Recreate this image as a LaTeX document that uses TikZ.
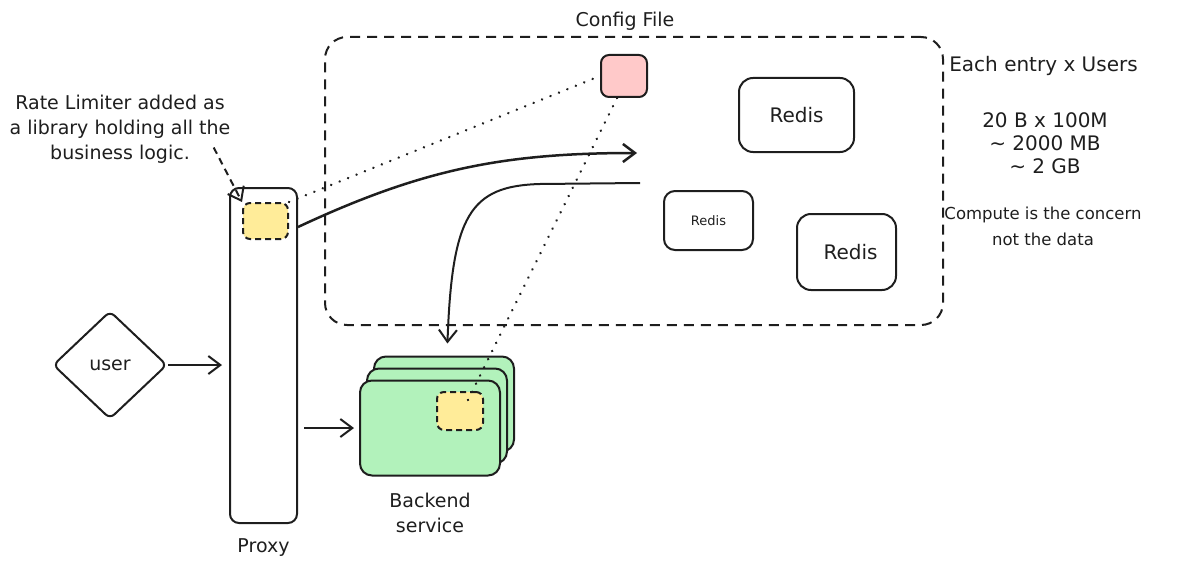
\documentclass[tikz,border=0pt]{standalone}
\usepackage{fontspec}
\setmainfont{DejaVu Sans}
\usetikzlibrary{positioning,shapes.geometric,arrows.meta}
\definecolor{ink}{HTML}{1E1E1E}
\definecolor{limiter}{HTML}{FFEC99}
\definecolor{cfgpink}{HTML}{FFC9C9}
\definecolor{svcgreen}{HTML}{B2F2BB}

\begin{document}
\begin{tikzpicture}[x=1pt, y=-1pt, line width=2pt, color=ink,
    box/.style={draw, rounded corners=9pt, inner sep=0pt},
    limbox/.style={box, fill=limiter, dash pattern=on 6pt off 4pt, rounded corners=7pt},
    card/.style={box, fill=svcgreen, minimum width=140pt, minimum height=95pt, rounded corners=12pt},
    lbl/.style={font=\fontsize{19}{25}\selectfont, align=center},
    arr/.style={-{Straight Barb[length=12pt,width=18pt]}},
    dotline/.style={dash pattern=on 0.1pt off 9pt, line cap=round, line width=2.6pt}]
              \useasboundingbox (0,0) rectangle (1182,567);
                \node[box, minimum width=67pt, minimum height=335pt] (proxy) at (263.5,355.5) {};
                \node[lbl, below=10pt of proxy] (proxylbl) {Proxy};
                \node[limbox, minimum width=45pt, minimum height=36pt] (rl) at (265.5,221) {};
                \node[draw, diamond, lbl, rounded corners=6pt, inner sep=0pt,
                      minimum width=114pt, minimum height=108pt] (user) at (110,365) {user};
                \node[box, dash pattern=on 10pt off 7pt, rounded corners=22pt,
                      minimum width=618pt, minimum height=288pt] (config) at (634,181) {};
                \node[lbl, above=1pt of config, xshift=-9pt] (cfglbl) {Config File};
                \node[box, fill=cfgpink, minimum width=46pt, minimum height=42pt, rounded corners=8pt] (cfg) at (624,76) {};
                \node[box, lbl, font=\fontsize{20}{25}\selectfont, minimum width=115pt, minimum height=74pt,
                      rounded corners=14pt] (redisA) at (796.5,115) {Redis};
                \node[box, font=\fontsize{13}{15}\selectfont, minimum width=89pt, minimum height=59pt,
                      rounded corners=11pt] (redisB) at (708.5,220.5) {Redis};
                \node[box, lbl, font=\fontsize{20}{25}\selectfont, minimum width=99pt, minimum height=76pt,
                      rounded corners=14pt] (redisC) at (846.5,252) {\hspace{8pt}Redis};
                \node[card] (back) at (444,404) {};
                \node[card] (mid) at (437,416) {};
                \node[card] (front) at (430,428) {};
                \node[limbox, minimum width=46pt, minimum height=38pt] (rl2) at (460,411) {};
                \node[lbl, below=12pt of front] (svclbl) {Backend\\service};
                \node[lbl] (note) at (120,129) {Rate Limiter added as\\a library holding all the\\business logic.};
                \node[lbl, font=\fontsize{20}{25}\selectfont, anchor=west] (entry) at (945,66) {Each entry x Users};
                \node[lbl, font=\fontsize{20}{23}\selectfont] (calc) at (1045,143) {20 B x 100M\\\textasciitilde{} 2000 MB\\\textasciitilde{} 2 GB};
                \node[lbl, font=\fontsize{16.5}{26}\selectfont] (concern) at (1043,226) {Compute is the concern\\not the data};
                \coordinate (toredis) at (637,153);
                \coordinate (fromredis) at (640,183);
                \draw[arr, shorten >=7pt] (user.east) -- (user.east -| proxy.west);
                \draw[arr, shorten <=6pt, shorten >=5pt] (proxy.east |- front.west) -- (front.west);
                \draw[arr, line width=2.5pt] ([yshift=-40pt]proxy.north east) to[out=25, in=180] (toredis);
                \draw[arr, shorten >=12pt] (fromredis) -- (540,184) .. controls (470,186) and (452,215) .. ([xshift=3pt]back.north);
%                \draw[arr] (proxy) -- (config);
                \draw[dotline] (rl.north east) -- (cfg.west);
                \draw[dotline] ([xshift=-7pt]cfg.south) -- ([xshift=8pt,yshift=11pt]rl2.center);
                \draw[arr, dash pattern=on 7pt off 5pt] ([xshift=-21pt,yshift=20pt]note.south east) -- (rl.north west);
            \end{tikzpicture}
\end{document}
